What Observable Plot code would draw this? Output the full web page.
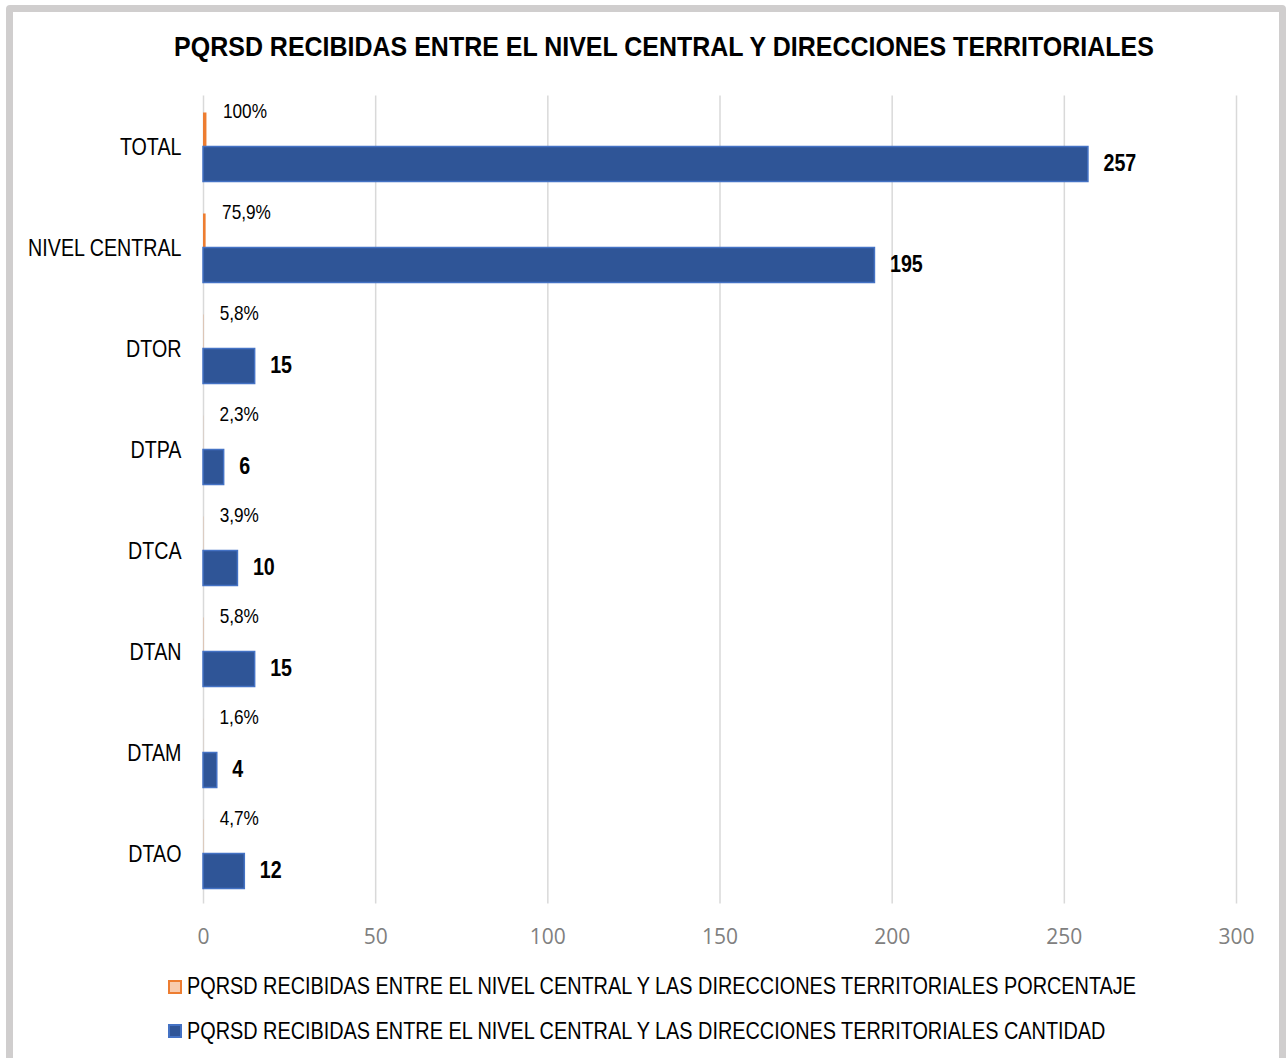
<!DOCTYPE html>
<html>
<head>
<meta charset="utf-8">
<script src="https://cdn.jsdelivr.net/npm/d3@7"></script>
<script src="https://cdn.jsdelivr.net/npm/@observablehq/plot@0.6"></script>
<style>
  html, body { margin: 0; padding: 0; overflow: hidden; background: #fff; width: 1286px; height: 1058px; }
  #frame { position: absolute; left: 6px; top: 5px; width: 1266px; height: 1070px; border: 7px solid #d0cece; border-radius: 4px; }
  #title { position: absolute; left: -336px; width: 2000px; top: 33px; text-align: center; font-family: 'Liberation Sans', Arial, sans-serif; font-weight: bold; font-size: 28px; line-height: 28px; color: #000; white-space: nowrap; transform: scaleX(0.892); transform-origin: 1000px 0; }
  #chart { position: absolute; left: 0; top: 80px; }
  .leg { position: absolute; left: 168px; height: 23px; display: flex; align-items: center; font-family: 'Liberation Sans', Arial, sans-serif; font-size: 23px; line-height: 23px; color: #000; white-space: nowrap; }
  .leg .tx { display: inline-block; transform: scaleX(0.863); transform-origin: 0 50%; }
  .sw { width: 10px; height: 10px; border: 2px solid; margin-right: 5px; box-sizing: content-box; }
</style>
</head>
<body>
<div id="frame"></div>
<div id="title"></div>
<div id="chart"></div>
<div id="legend"></div>
<script>
const titleText = "PQRSD RECIBIDAS ENTRE EL NIVEL CENTRAL Y DIRECCIONES TERRITORIALES";
const categories = ["TOTAL", "NIVEL CENTRAL", "DTOR", "DTPA", "DTCA", "DTAN", "DTAM", "DTAO"];
const cantidad = [257, 195, 15, 6, 10, 15, 4, 12];
const porcentaje = [1, 0.759, 0.058, 0.023, 0.039, 0.058, 0.016, 0.047];
const xTicks = [0, 50, 100, 150, 200, 250, 300];
const seriesNames = [
  "PQRSD RECIBIDAS ENTRE EL NIVEL CENTRAL Y LAS DIRECCIONES TERRITORIALES PORCENTAJE",
  "PQRSD RECIBIDAS ENTRE EL NIVEL CENTRAL Y LAS DIRECCIONES TERRITORIALES CANTIDAD"
];
const seriesFill = ["#f8cbad", "#2f5597"];
const seriesStroke = ["#ed7d31", "#4472c4"];

const sans = "'Liberation Sans', Arial, sans-serif";
const data = categories.map((c, i) => ({cat: c, n: cantidad[i], p: porcentaje[i]}));
const fmtPct = v => v === 1 ? "100%" : (v * 100).toFixed(1).replace(".", ",") + "%";

document.getElementById("title").textContent = titleText;

const chart = Plot.plot({
  width: 1286,
  height: 880,
  marginLeft: 203,
  marginRight: 50,
  marginTop: 15.5,
  marginBottom: 56.5,
  style: {fontFamily: sans, background: "transparent"},
  x: {domain: [0, 300], ticks: xTicks, label: null},
  y: {domain: categories, padding: 0, label: null},
  marks: [
    Plot.ruleX(xTicks, {stroke: "#d9d9d9", strokeWidth: 1.5}),
    Plot.barX(data, {x: "p", y: "cat", insetTop: 16.5, insetBottom: 50, fill: seriesStroke[0]}),
    Plot.barX(data, {x: "n", y: "cat", insetTop: 50.5, insetBottom: 15.5, fill: seriesFill[1], stroke: seriesStroke[1], strokeWidth: 1.5}),
    Plot.text(data, {x: "p", y: "cat", text: d => fmtPct(d.p), dx: 16, dy: -36, textAnchor: "start", fontSize: 21, fontFamily: sans, fill: "#000", className: "narrow"}),
    Plot.text(data, {x: "n", y: "cat", text: d => String(d.n), dx: 15, dy: 16, textAnchor: "start", fontSize: 24, fontWeight: "bold", fontFamily: sans, fill: "#000", className: "narrow"}),
    Plot.axisY({tickSize: 0, tickPadding: 22, fontSize: 24, fontFamily: sans, fill: "#000", label: null, className: "narrow"}),
    Plot.axisX({ticks: xTicks, tickSize: 0, tickPadding: 25, fontSize: 21, fontFamily: "'Open Sans', sans-serif", fill: "#808080", label: null})
  ]
});
// Arial-Narrow look: compress glyphs horizontally about each label's anchor point
chart.querySelectorAll(".narrow text").forEach(t => {
  const tr = t.getAttribute("transform") || "";
  const x = t.getAttribute("x");
  if (x !== null) {
    t.setAttribute("transform", tr + ` translate(${x},0) scale(0.82,1) translate(${-x},0)`);
  } else {
    t.setAttribute("transform", tr + " scale(0.82,1)");
  }
});
document.getElementById("chart").appendChild(chart);

const legend = document.getElementById("legend");
const legTops = [975, 1019.5];
seriesNames.forEach((name, i) => {
  const row = document.createElement("div");
  row.className = "leg";
  row.style.top = legTops[i] + "px";
  const sw = document.createElement("span");
  sw.className = "sw";
  sw.style.background = seriesFill[i];
  sw.style.borderColor = seriesStroke[i];
  row.appendChild(sw);
  const t = document.createElement("span");
  t.className = "tx";
  t.textContent = name;
  row.appendChild(t);
  legend.appendChild(row);
});
</script>
</body>
</html>
